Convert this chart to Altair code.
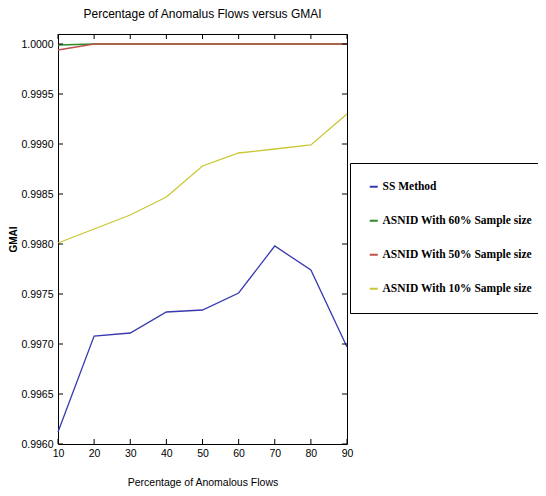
import altair as alt
import pandas as pd

# ---- data ----
x_vals = [10, 20, 30, 40, 50, 60, 70, 80, 90]
series_names = [
    "SS Method",
    "ASNID With 60% Sample size",
    "ASNID With 50% Sample size",
    "ASNID With 10% Sample size",
]
ss_method = [0.99612, 0.99708, 0.99711, 0.99732, 0.99734, 0.99751, 0.99798, 0.99774, 0.99697]
asnid_60 = [0.99999, 1.0, 1.0, 1.0, 1.0, 1.0, 1.0, 1.0, 1.0]
asnid_50 = [0.99994, 1.0, 1.0, 1.0, 1.0, 1.0, 1.0, 1.0, 1.0]
asnid_10 = [0.99801, 0.99815, 0.99829, 0.99847, 0.99878, 0.99891, 0.99895, 0.99899, 0.99930]
y_ticks = [0.996, 0.9965, 0.997, 0.9975, 0.998, 0.9985, 0.999, 0.9995, 1.0]
series_colors = ["#3838b0", "#2a8a2a", "#c0504a", "#c8c832"]

rows = []
for name, vals in zip(series_names, [ss_method, asnid_60, asnid_50, asnid_10]):
    for x, v in zip(x_vals, vals):
        rows.append({"flows": x, "gmai": v, "series": name})
df = pd.DataFrame(rows)
xt = pd.DataFrame({"t": x_vals})
yt = pd.DataFrame({"t": y_ticks})

FONT = "Liberation Sans"
W, H = 289, 410
TICK = 5

x_scale = alt.Scale(domain=[10, 90], nice=False, zero=False)
y_scale = alt.Scale(domain=[0.996, 1.0001], nice=False, zero=False)

x_axis = alt.Axis(values=x_vals, format="d", title="Percentage of Anomalous Flows",
                  orient="bottom", ticks=False, domain=False, labelFlush=False,
                  labelPadding=4, titlePadding=19, grid=False)
y_axis = alt.Axis(values=y_ticks, format=".4f", title="GMAI", orient="left",
                  ticks=False, domain=False, labelFlush=False, labelPadding=5,
                  titlePadding=2, grid=False, titleFontWeight="bold",
                  titleFontSize=10)

lines = alt.Chart(df).mark_line(strokeWidth=1.3).encode(
    x=alt.X("flows:Q", scale=x_scale, axis=x_axis),
    y=alt.Y("gmai:Q", scale=y_scale, axis=y_axis),
    color=alt.Color(
        "series:N",
        scale=alt.Scale(domain=series_names, range=series_colors),
        legend=alt.Legend(
            title=None, orient="none", legendX=292, legendY=129,
            symbolType="stroke", symbolSize=64, symbolStrokeWidth=2,
            labelFont="Liberation Serif", labelFontSize=11.5, labelFontWeight="bold",
            labelColor="black", strokeColor="black", fillColor="white",
            padding=18, rowPadding=21, labelOffset=3, labelLimit=300,
        ),
    ),
)

bottom_ticks = alt.Chart(xt).mark_rule(color="black", strokeWidth=1).encode(
    x=alt.X("t:Q", scale=x_scale, axis=x_axis), y=alt.value(H), y2=alt.value(H - TICK)
)
top_ticks = alt.Chart(xt).mark_rule(color="black", strokeWidth=1).encode(
    x=alt.X("t:Q", scale=x_scale, axis=x_axis), y=alt.value(0), y2=alt.value(TICK)
)
left_ticks = alt.Chart(yt).mark_rule(color="black", strokeWidth=1).encode(
    y=alt.Y("t:Q", scale=y_scale, axis=y_axis), x=alt.value(0), x2=alt.value(TICK)
)
right_ticks = alt.Chart(yt).mark_rule(color="black", strokeWidth=1).encode(
    y=alt.Y("t:Q", scale=y_scale, axis=y_axis), x=alt.value(W), x2=alt.value(W - TICK)
)

chart = alt.layer(lines, bottom_ticks, top_ticks, left_ticks, right_ticks).properties(
    width=W,
    height=H,
    title=alt.TitleParams(
        "Percentage of Anomalus Flows versus GMAI", font=FONT, fontSize=12,
        fontWeight="normal", anchor="middle", offset=13, color="black",
    ),
    autosize=alt.AutoSizeParams(type="none"),
    padding={"left": 50, "top": 26, "right": 191, "bottom": 44},
).configure_view(
    stroke="black", strokeWidth=1
).configure_axis(
    labelFont=FONT, labelFontSize=10.5, titleFont=FONT, titleFontSize=10.5,
    titleFontWeight="normal", labelColor="black", titleColor="black",
)

chart.save("out.html", embed_options={"renderer": "svg", "actions": False})
